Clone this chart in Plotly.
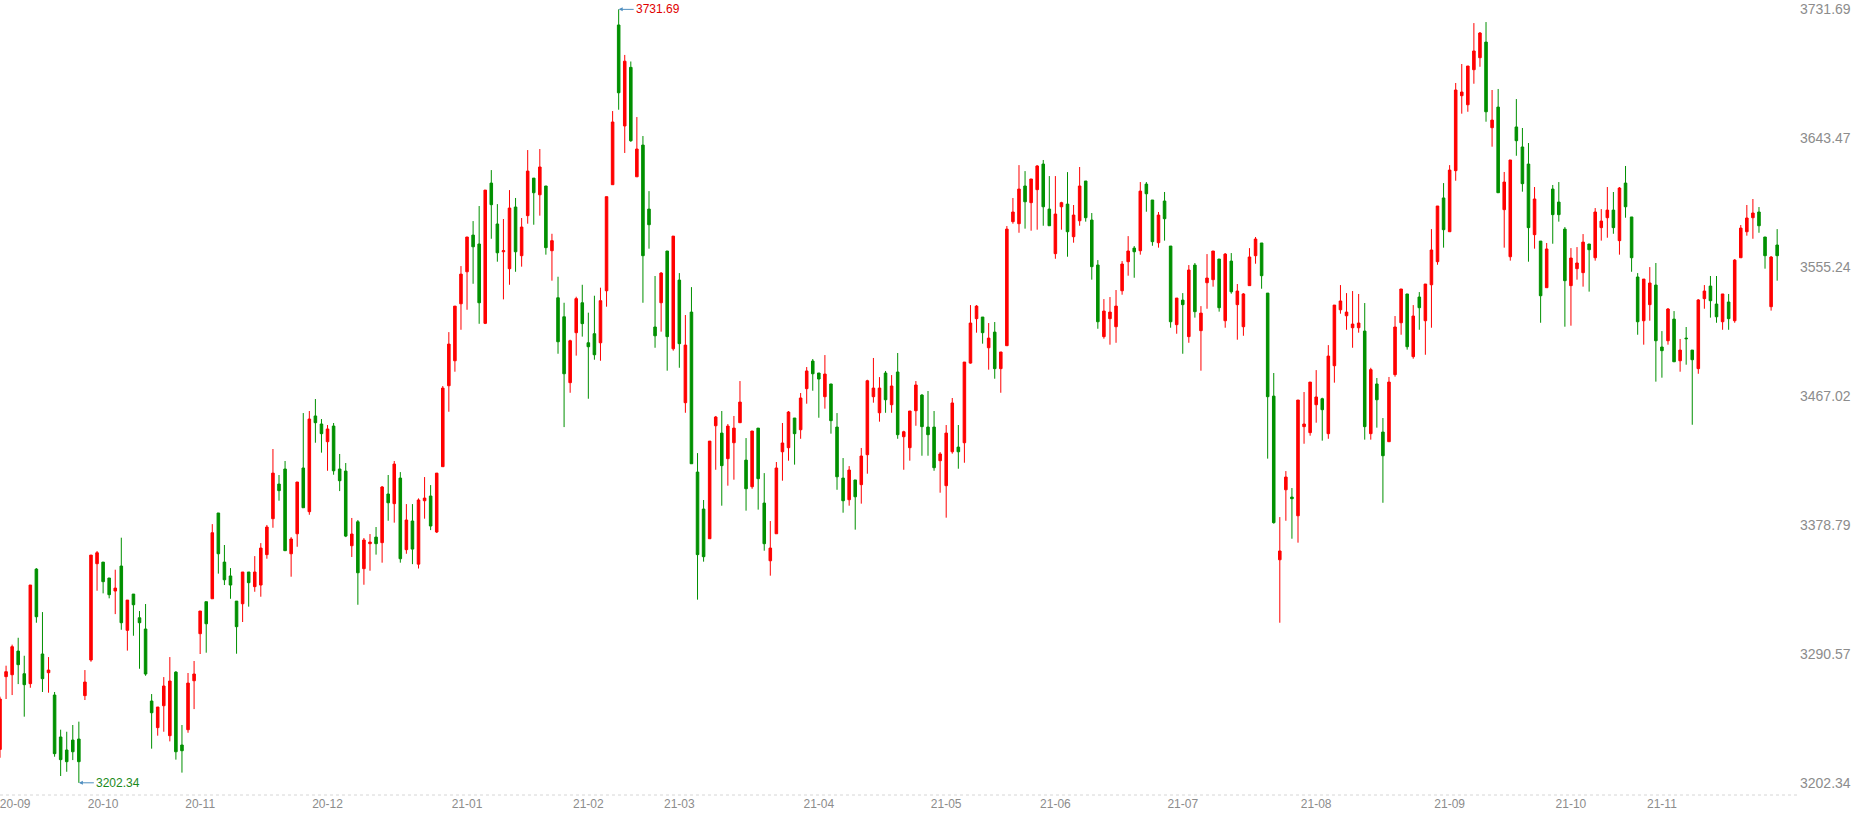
import numpy as np
import plotly.graph_objects as go

# Daily candles, Sep 2020 - Nov 2021 (one entry per trading day, in order)
open_ = [
    3225.2, 3275.0, 3276.3, 3292.5, 3277.0, 3270.2, 3348.6, 3290.5, 3277.7, 3262.4,
    3233.7, 3224.8, 3231.6, 3232.3, 3262.0, 3286.4, 3352.3, 3353.4, 3342.5, 3333.6,
    3350.7, 3306.7, 3331.5, 3315.3, 3307.6, 3258.3, 3240.1, 3255.1, 3234.6, 3278.1,
    3228.2, 3238.7, 3272.2, 3304.4, 3326.3, 3328.3, 3387.0, 3353.4, 3343.9, 3326.7,
    3324.9, 3346.6, 3336.6, 3337.7, 3358.5, 3383.1, 3406.8, 3417.1, 3359.1, 3372.8,
    3417.8, 3387.9, 3453.4, 3447.9, 3435.8, 3446.5, 3417.1, 3415.7, 3364.6, 3381.0,
    3348.9, 3366.0, 3370.5, 3366.7, 3400.0, 3393.4, 3410.9, 3361.9, 3381.5, 3352.0,
    3395.4, 3398.6, 3374.0, 3418.7, 3474.1, 3491.2, 3530.2, 3552.1, 3577.2, 3571.1,
    3516.8, 3612.8, 3584.8, 3565.8, 3554.2, 3596.4, 3563.1, 3590.5, 3616.2, 3604.8,
    3610.8, 3566.5, 3534.3, 3521.3, 3476.2, 3510.4, 3530.9, 3503.5, 3509.7, 3503.5,
    3539.1, 3611.7, 3721.0, 3651.9, 3692.0, 3617.1, 3638.8, 3595.0, 3514.3, 3530.9,
    3566.3, 3499.4, 3546.4, 3462.5, 3524.5, 3415.0, 3389.7, 3369.4, 3446.7, 3441.7,
    3424.2, 3435.1, 3448.8, 3423.2, 3405.0, 3445.1, 3393.8, 3354.3, 3372.8, 3428.9,
    3431.7, 3452.0, 3444.0, 3472.1, 3491.0, 3482.8, 3466.6, 3475.3, 3445.8, 3410.9,
    3396.1, 3409.6, 3406.4, 3426.9, 3466.6, 3455.6, 3482.8, 3461.1, 3483.5, 3439.2,
    3431.7, 3457.0, 3467.7, 3445.8, 3445.8, 3422.8, 3405.7, 3428.9, 3432.1, 3435.1,
    3489.6, 3520.0, 3521.1, 3500.1, 3510.8, 3485.8, 3501.5, 3586.4, 3585.0, 3610.8,
    3599.4, 3608.3, 3625.8, 3595.0, 3564.5, 3596.6, 3598.4, 3576.1, 3587.0, 3614.2,
    3587.5, 3556.7, 3507.7, 3520.0, 3514.5, 3539.1, 3559.0, 3568.3, 3566.5, 3612.1,
    3601.2, 3572.0, 3600.5, 3569.7, 3515.9, 3532.7, 3507.7, 3556.7, 3511.8, 3544.6,
    3546.7, 3560.8, 3518.6, 3559.4, 3529.6, 3514.5, 3542.6, 3563.1, 3571.8, 3537.5,
    3467.0, 3355.0, 3402.9, 3397.9, 3385.1, 3446.1, 3442.0, 3461.1, 3465.2, 3441.3,
    3487.8, 3526.1, 3522.0, 3513.8, 3513.8, 3511.5, 3441.3, 3475.3, 3442.4, 3435.8,
    3481.7, 3517.2, 3536.9, 3494.0, 3534.8, 3518.6, 3543.2, 3559.0, 3602.6, 3579.5,
    3621.3, 3672.6, 3666.4, 3690.4, 3698.6, 3709.3, 3650.7, 3664.8, 3594.6, 3562.4,
    3651.2, 3637.5, 3625.8, 3577.5, 3573.1, 3541.2, 3608.7, 3599.8, 3581.3, 3542.6,
    3554.2, 3551.5, 3571.1, 3561.7, 3582.3, 3589.1, 3594.3, 3573.4, 3612.8, 3589.6,
    3548.5, 3518.6, 3529.6, 3543.0, 3500.6, 3504.9, 3519.7, 3491.2, 3506.7, 3498.5,
    3485.8, 3533.7, 3542.3, 3530.0, 3517.9, 3531.4, 3518.6, 3561.7, 3579.5, 3589.1,
    3593.0, 3575.9, 3528.2, 3570.4,
]
high = [
    3261.3, 3282.5, 3296.9, 3301.6, 3289.3, 3337.7, 3349.3, 3319.2, 3288.4, 3264.5,
    3238.7, 3237.3, 3241.9, 3244.2, 3279.5, 3358.2, 3361.0, 3353.4, 3342.5, 3348.2,
    3370.1, 3327.4, 3331.5, 3319.9, 3324.7, 3263.1, 3254.2, 3274.7, 3288.4, 3278.8,
    3241.9, 3277.5, 3285.7, 3319.9, 3326.3, 3379.4, 3387.0, 3365.1, 3349.3, 3326.7,
    3346.6, 3346.6, 3357.5, 3366.4, 3378.8, 3430.8, 3413.0, 3422.6, 3370.5, 3408.2,
    3455.4, 3456.8, 3465.0, 3451.3, 3447.2, 3448.6, 3427.4, 3421.2, 3383.6, 3382.2,
    3369.9, 3372.6, 3377.4, 3405.5, 3413.0, 3422.6, 3415.0, 3393.1, 3393.1, 3397.0,
    3411.6, 3406.1, 3414.3, 3473.9, 3510.8, 3528.6, 3556.0, 3575.9, 3586.8, 3597.1,
    3608.0, 3621.7, 3598.4, 3588.2, 3608.0, 3602.6, 3588.9, 3635.4, 3616.2, 3636.1,
    3610.8, 3578.1, 3548.7, 3530.9, 3505.6, 3535.0, 3543.2, 3524.1, 3535.7, 3541.2,
    3603.5, 3662.1, 3731.69, 3700.5, 3696.0, 3658.0, 3645.0, 3607.3, 3549.2, 3551.9,
    3566.3, 3576.5, 3551.2, 3522.5, 3541.6, 3428.0, 3395.9, 3436.2, 3453.4, 3456.8,
    3447.9, 3453.4, 3477.3, 3438.3, 3443.1, 3445.1, 3414.3, 3381.5, 3421.9, 3448.6,
    3456.8, 3452.0, 3469.1, 3486.9, 3492.4, 3482.8, 3495.1, 3475.3, 3455.4, 3424.6,
    3419.1, 3409.6, 3431.5, 3478.2, 3493.1, 3480.0, 3484.2, 3481.4, 3496.5, 3443.3,
    3456.8, 3477.3, 3468.4, 3470.5, 3456.8, 3428.7, 3447.2, 3465.7, 3447.2, 3490.3,
    3529.3, 3529.3, 3521.1, 3517.0, 3517.7, 3497.2, 3583.4, 3602.6, 3625.1, 3621.0,
    3615.6, 3625.1, 3628.6, 3617.6, 3617.6, 3600.0, 3620.3, 3597.8, 3623.8, 3614.2,
    3592.3, 3560.1, 3533.4, 3534.8, 3539.6, 3559.4, 3576.5, 3569.7, 3613.5, 3613.5,
    3601.2, 3593.0, 3606.7, 3569.7, 3534.1, 3537.5, 3556.7, 3558.1, 3528.6, 3564.2,
    3566.3, 3560.8, 3564.9, 3564.9, 3543.7, 3537.5, 3568.3, 3575.9, 3571.8, 3537.5,
    3482.8, 3384.2, 3415.7, 3404.1, 3464.3, 3469.8, 3476.6, 3484.8, 3465.9, 3501.9,
    3529.3, 3543.0, 3537.5, 3538.9, 3536.9, 3530.7, 3486.4, 3479.4, 3452.0, 3480.1,
    3521.8, 3540.3, 3536.9, 3529.3, 3538.2, 3543.7, 3581.3, 3597.1, 3612.8, 3625.1,
    3681.3, 3694.3, 3692.9, 3722.3, 3716.2, 3723.0, 3676.5, 3677.2, 3620.4, 3628.6,
    3670.3, 3650.5, 3640.2, 3610.1, 3573.1, 3571.8, 3611.5, 3613.5, 3582.7, 3568.3,
    3569.0, 3577.9, 3571.1, 3595.7, 3595.0, 3610.1, 3606.7, 3610.1, 3624.5, 3589.6,
    3551.2, 3547.1, 3555.3, 3558.1, 3511.5, 3527.3, 3525.2, 3506.1, 3514.3, 3498.5,
    3533.4, 3543.0, 3549.2, 3549.2, 3536.9, 3536.9, 3560.8, 3584.1, 3597.8, 3601.9,
    3596.4, 3575.9, 3562.9, 3581.3,
]
low = [
    3219.5, 3259.7, 3262.4, 3269.9, 3247.6, 3267.4, 3311.9, 3264.5, 3264.0, 3220.2,
    3207.0, 3209.9, 3217.9, 3202.34, 3259.0, 3285.2, 3333.8, 3332.0, 3328.6, 3317.8,
    3307.1, 3292.8, 3303.0, 3280.4, 3275.6, 3225.7, 3234.6, 3237.3, 3230.7, 3218.2,
    3209.3, 3236.6, 3252.8, 3290.5, 3291.4, 3328.3, 3345.5, 3337.7, 3328.3, 3290.7,
    3312.4, 3322.9, 3333.1, 3329.7, 3355.7, 3376.9, 3395.4, 3361.2, 3343.4, 3363.9,
    3390.6, 3385.8, 3435.1, 3428.3, 3415.9, 3413.2, 3402.0, 3370.5, 3356.9, 3324.2,
    3337.9, 3347.5, 3358.5, 3353.0, 3381.7, 3380.4, 3353.0, 3359.1, 3352.0, 3349.0,
    3383.1, 3375.3, 3373.3, 3418.7, 3456.3, 3483.7, 3512.4, 3526.1, 3543.9, 3516.5,
    3516.3, 3574.7, 3559.0, 3533.2, 3543.2, 3552.1, 3555.6, 3585.0, 3584.3, 3590.5,
    3563.8, 3546.0, 3496.0, 3445.8, 3469.3, 3494.7, 3507.7, 3465.2, 3491.9, 3491.2,
    3528.2, 3611.7, 3663.0, 3633.4, 3641.0, 3617.1, 3530.9, 3567.9, 3500.1, 3511.1,
    3484.4, 3498.1, 3486.4, 3455.6, 3420.7, 3327.7, 3353.7, 3369.4, 3416.6, 3392.0,
    3405.7, 3409.8, 3448.8, 3388.6, 3403.6, 3389.3, 3361.2, 3344.1, 3372.8, 3409.1,
    3422.8, 3420.1, 3437.8, 3461.8, 3470.7, 3452.2, 3458.4, 3441.3, 3402.9, 3387.2,
    3392.0, 3375.6, 3393.4, 3413.9, 3462.5, 3449.5, 3455.6, 3455.6, 3437.8, 3416.6,
    3422.8, 3446.7, 3426.2, 3426.2, 3415.9, 3400.9, 3383.8, 3427.6, 3417.3, 3421.4,
    3489.2, 3510.4, 3502.9, 3485.1, 3478.9, 3469.3, 3501.5, 3585.0, 3578.8, 3581.6,
    3580.2, 3580.9, 3583.6, 3583.6, 3561.0, 3580.9, 3562.4, 3572.0, 3583.6, 3586.4,
    3546.7, 3513.1, 3506.3, 3502.2, 3503.5, 3536.4, 3549.4, 3548.0, 3563.8, 3593.2,
    3569.9, 3568.6, 3573.4, 3513.8, 3509.7, 3496.0, 3503.5, 3520.7, 3484.4, 3526.8,
    3541.9, 3524.8, 3513.8, 3537.1, 3505.6, 3508.3, 3542.6, 3557.6, 3540.5, 3424.2,
    3379.7, 3311.9, 3381.7, 3369.4, 3366.7, 3434.4, 3439.9, 3448.8, 3436.5, 3437.8,
    3476.2, 3523.4, 3512.4, 3500.1, 3510.4, 3437.2, 3437.2, 3445.4, 3394.0, 3435.8,
    3480.3, 3509.0, 3498.8, 3492.6, 3512.4, 3495.3, 3513.8, 3556.9, 3568.6, 3579.5,
    3614.4, 3660.3, 3661.6, 3680.8, 3692.4, 3654.8, 3637.7, 3606.2, 3568.6, 3559.7,
    3631.5, 3606.9, 3559.0, 3567.9, 3517.2, 3541.2, 3571.3, 3586.4, 3514.5, 3515.2,
    3546.7, 3541.9, 3538.5, 3559.7, 3573.4, 3575.4, 3578.1, 3563.8, 3589.1, 3552.1,
    3509.0, 3502.2, 3518.6, 3476.9, 3479.6, 3502.2, 3490.5, 3483.7, 3488.5, 3447.4,
    3482.3, 3526.8, 3520.7, 3517.2, 3512.4, 3512.4, 3517.2, 3561.7, 3576.8, 3574.7,
    3578.8, 3554.2, 3525.5, 3546.0,
]
close = [
    3259.7, 3278.4, 3295.5, 3283.2, 3269.5, 3337.7, 3316.0, 3273.6, 3279.5, 3222.3,
    3218.2, 3216.8, 3223.6, 3216.8, 3271.3, 3358.2, 3359.8, 3340.0, 3331.1, 3335.6,
    3311.9, 3327.4, 3324.2, 3311.9, 3276.8, 3250.3, 3254.2, 3268.6, 3272.0, 3223.6,
    3224.3, 3270.6, 3276.8, 3319.9, 3311.2, 3373.5, 3359.1, 3341.3, 3337.7, 3309.2,
    3346.6, 3339.3, 3346.6, 3363.0, 3377.4, 3414.3, 3402.3, 3361.2, 3369.2, 3408.2,
    3390.6, 3451.3, 3448.8, 3441.3, 3444.5, 3415.9, 3409.1, 3371.2, 3372.6, 3346.1,
    3368.5, 3367.1, 3366.0, 3404.8, 3394.0, 3420.5, 3355.7, 3382.2, 3362.3, 3395.9,
    3397.2, 3378.1, 3414.3, 3472.5, 3502.6, 3528.6, 3550.5, 3575.9, 3569.2, 3530.9,
    3608.0, 3598.0, 3565.1, 3566.5, 3595.7, 3565.8, 3582.7, 3621.0, 3606.2, 3623.8,
    3568.6, 3573.4, 3504.2, 3482.3, 3504.9, 3533.7, 3516.6, 3500.8, 3495.3, 3532.3,
    3603.5, 3654.6, 3674.6, 3696.2, 3641.8, 3636.1, 3563.1, 3584.3, 3508.3, 3551.2,
    3507.7, 3576.5, 3502.9, 3501.9, 3420.7, 3358.5, 3357.1, 3436.2, 3452.7, 3419.4,
    3446.5, 3445.1, 3462.9, 3403.6, 3443.1, 3410.5, 3366.0, 3363.0, 3417.8, 3434.9,
    3456.1, 3441.3, 3465.7, 3484.2, 3482.3, 3478.7, 3482.1, 3450.2, 3411.8, 3395.4,
    3416.4, 3398.1, 3426.0, 3477.5, 3472.5, 3472.5, 3464.5, 3473.9, 3440.6, 3442.6,
    3456.8, 3474.6, 3446.1, 3440.6, 3418.0, 3427.4, 3441.7, 3462.3, 3428.9, 3490.3,
    3517.0, 3528.6, 3510.4, 3506.7, 3485.8, 3497.2, 3581.3, 3593.0, 3608.7, 3600.0,
    3615.6, 3624.5, 3596.6, 3583.6, 3591.6, 3599.4, 3579.5, 3590.9, 3610.8, 3589.1,
    3555.6, 3517.9, 3525.2, 3524.5, 3528.6, 3557.4, 3566.3, 3565.8, 3607.3, 3605.5,
    3572.7, 3590.9, 3588.4, 3517.9, 3534.1, 3529.6, 3553.3, 3524.8, 3523.8, 3547.8,
    3566.3, 3527.5, 3564.2, 3538.4, 3538.9, 3536.9, 3562.2, 3574.5, 3549.4, 3466.6,
    3380.4, 3361.0, 3411.6, 3396.8, 3464.3, 3447.9, 3476.6, 3466.4, 3457.7, 3494.4,
    3529.3, 3532.1, 3524.5, 3516.3, 3517.0, 3446.1, 3485.1, 3464.5, 3426.2, 3476.6,
    3514.3, 3540.3, 3500.8, 3521.8, 3527.5, 3543.7, 3567.0, 3597.1, 3580.9, 3621.7,
    3676.5, 3675.1, 3692.9, 3703.2, 3715.5, 3661.6, 3655.9, 3606.2, 3613.5, 3628.6,
    3641.8, 3612.4, 3582.3, 3601.9, 3535.7, 3567.7, 3591.2, 3591.2, 3546.0, 3561.5,
    3558.1, 3572.4, 3567.2, 3593.0, 3586.8, 3594.3, 3582.3, 3609.4, 3596.6, 3561.7,
    3517.9, 3547.1, 3544.4, 3504.9, 3498.1, 3526.6, 3490.5, 3498.5, 3506.3, 3491.9,
    3532.8, 3538.9, 3532.3, 3521.3, 3536.9, 3520.0, 3560.1, 3582.0, 3588.9, 3592.3,
    3583.6, 3563.1, 3562.2, 3563.1,
]

# month labels and the index of the first trading day of each month
month_labels = ["20-09", "20-10", "20-11", "20-12", "21-01", "21-02", "21-03", "21-04",
                "21-05", "21-06", "21-07", "21-08", "21-09", "21-10", "21-11"]
month_first = [-0.5, 14, 30, 51, 74, 94, 109, 132, 153, 171, 192, 214, 236, 256, 271]

UP = "#ff0000"
DOWN = "#009000"
GREY = "#8c8c8c"
FONT = "Liberation Sans, Arial, sans-serif"

x = list(range(len(close)))

fig = go.Figure(
    go.Candlestick(
        x=x, open=open_, high=high, low=low, close=close,
        increasing=dict(line=dict(color=UP, width=1), fillcolor=UP),
        decreasing=dict(line=dict(color=DOWN, width=1), fillcolor=DOWN),
        whiskerwidth=0,
        hoverinfo="skip",
    )
)

# right axis: 7 evenly spaced levels between the extremes
lo, hi = min(low), max(high)
levels = np.linspace(lo, hi, 7)
level_text = [f"{v + 1e-9:.2f}" for v in levels]

i_hi = high.index(hi)
i_lo = low.index(lo)

marker_style = dict(showarrow=True, arrowhead=2, arrowsize=0.8, arrowwidth=1,
                    arrowcolor="#4f8fc0", ax=15, ay=0, xanchor="left",
                    standoff=0, font=dict(size=12, family=FONT))
fig.add_annotation(x=i_hi, y=hi, text=f"{hi:.2f}", **marker_style)
fig.add_annotation(x=i_lo, y=lo, text=f"{lo:.2f}", **marker_style)
fig.layout.annotations[0].font.color = "#e00000"
fig.layout.annotations[1].font.color = "#1a8a1a"

# dotted base line under the candles
fig.add_shape(type="line", xref="paper", yref="paper", x0=0, x1=1, y0=0, y1=0,
              line=dict(color="#d6d6d6", width=1, dash="dot"))

fig.update_layout(
    width=1869, height=815,
    margin=dict(l=0, r=70, t=0, b=20),
    paper_bgcolor="white", plot_bgcolor="white",
    showlegend=False,
    boxgap=0.4,
    font=dict(family=FONT, size=12, color=GREY),
    xaxis=dict(
        range=[0, 296.6],
        rangeslider=dict(visible=False),
        showgrid=False, zeroline=False, showline=False,
        tickmode="array",
        tickvals=[m + 3 for m in month_first],
        ticktext=month_labels,
        ticks="",
        ticklabeloverflow="allow",
        tickfont=dict(size=12, color=GREY),
    ),
    yaxis=dict(
        side="right",
        range=[3194.0, 3738.1],
        showgrid=False, zeroline=False, showline=False,
        tickmode="array",
        tickvals=list(levels),
        ticktext=level_text,
        ticks="",
        tickfont=dict(size=14, color=GREY),
    ),
)

# drop the browser's default page margin so the figure sits at the top-left corner
fig.write_html("out.html", config={"displayModeBar": False},
               post_script="document.body.style.margin = '0';")
